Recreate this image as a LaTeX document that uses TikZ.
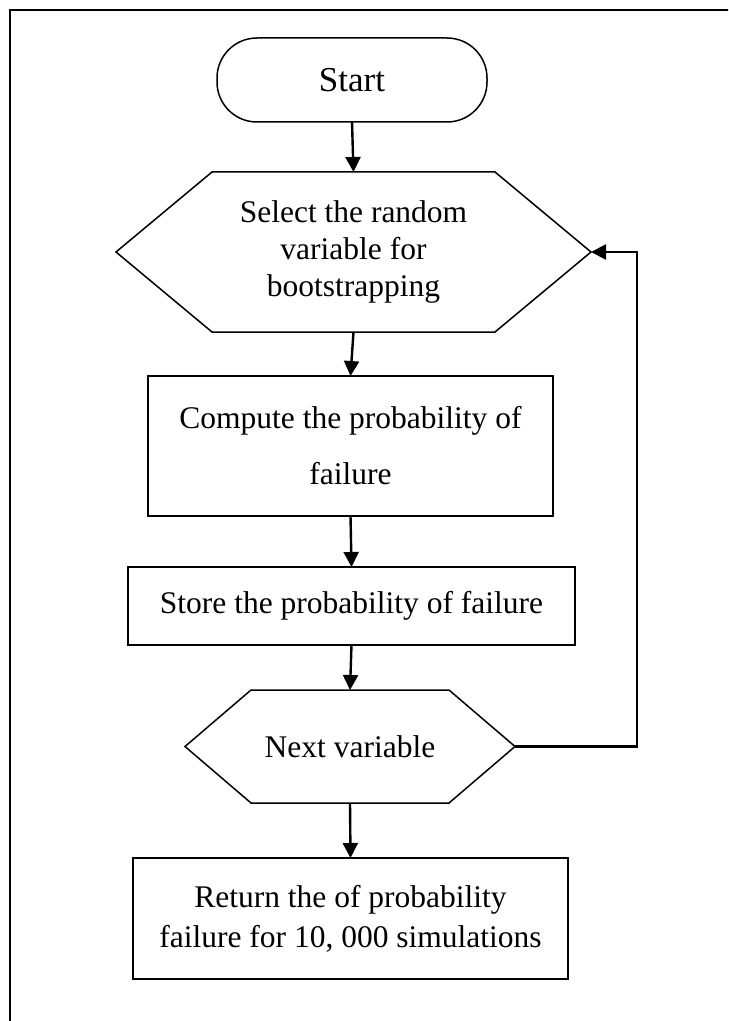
\documentclass[tikz,border=0pt]{standalone}
\usepackage{fontspec}
\setmainfont{Liberation Serif}
\usepackage{tikz}
\usetikzlibrary{arrows.meta,positioning,calc}

\begin{document}
\begin{tikzpicture}[x=0.5pt,y=-0.5pt,>={Triangle[length=7.5pt,width=7.5pt]},
    font=\fontsize{15.75}{18.3}\selectfont,
    procbox/.style={draw=black,line width=0.75pt,fill=white,inner sep=0pt,outer sep=0pt,align=center},
    hexbox/.style={inner sep=0pt,outer sep=0pt,align=center},
    flowarrow/.style={->,line width=1.2pt}]
    \useasboundingbox (0,0) rectangle (728,1021);
    \clip (0,0) rectangle (728,1021);
    \draw[line width=1.2pt] (10,10) rectangle (760,1060);
    % terminal
    \node[procbox,rounded corners=20pt,minimum width=135pt,minimum height=42pt,font=\fontsize{17.5}{20}\selectfont] (start) at (352,80) {Start};
    % decision-like hexagons, outline drawn from the anchors
    \node[hexbox,minimum width=237.5pt,minimum height=80pt] (sel) at (353.5,252) {Select the random\\variable for\\bootstrapping};
    \draw[line width=0.75pt] (sel.west) -- ([xshift=48pt]sel.north west) -- ([xshift=-48pt]sel.north east) -- (sel.east)
        -- ([xshift=-48pt]sel.south east) -- ([xshift=48pt]sel.south west) -- cycle;
    \node[procbox,minimum width=202.5pt,minimum height=70pt,font=\fontsize{15.75}{28}\selectfont] (comp) at (350.5,446) {Compute the probability of\\failure};
    \node[procbox,minimum width=223.5pt,minimum height=39pt] (store) at (351.5,606) {Store the probability of failure};
    \node[hexbox,minimum width=165pt,minimum height=56.5pt] (next) at (350,746.5) {Next variable};
    \draw[line width=0.75pt] (next.west) -- ([xshift=33pt]next.north west) -- ([xshift=-33pt]next.north east) -- (next.east)
        -- ([xshift=-33pt]next.south east) -- ([xshift=33pt]next.south west) -- cycle;
    \node[procbox,minimum width=217.5pt,minimum height=60.5pt,font=\fontsize{15.75}{20}\selectfont] (ret) at (350.5,918.5) {Return the of probability\\failure for 10, 000 simulations};
    % connectors
    \draw[flowarrow] (start.south) -- (sel.north);
    \draw[flowarrow] (sel.south) -- (comp.north);
    \draw[flowarrow] (comp.south) -- (store.north);
    \draw[flowarrow] (store.south) -- (next.north);
    \draw[flowarrow] (next.south) -- (ret.north);
    \draw[flowarrow] (next.east) -- ++(122,0) |- (sel.east);
\end{tikzpicture}
\end{document}
